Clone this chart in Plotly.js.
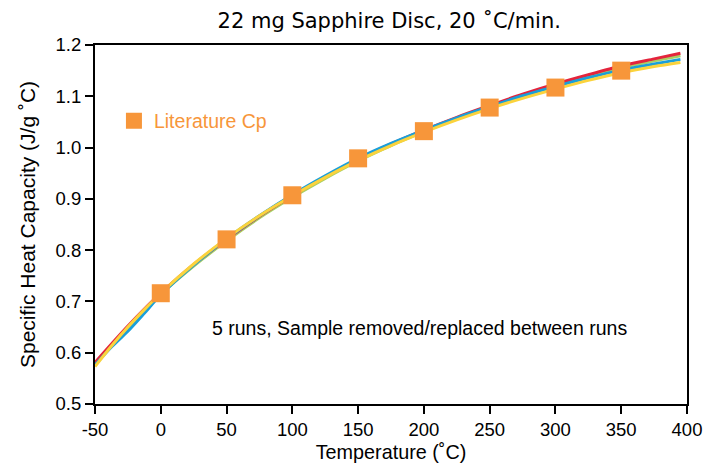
<!DOCTYPE html>
<html>
<head>
<meta charset="utf-8">
<script src="https://cdn.plot.ly/plotly-3.0.1.min.js"></script>
<style>
  html, body { margin: 0; padding: 0; background: #fff; }
  #chart { width: 709px; height: 466px; }
</style>
</head>
<body>
<div id="chart"></div>
<script>
// Temperature grid (°C) for the measured runs
const runTemps = [-50, -37.5, -25, -12.5, 0, 25, 50, 75, 100, 125, 150, 175, 200, 225, 250, 275, 300, 325, 350, 375, 395];

// Specific heat capacity (J/g °C) for each run
const runGreen  = [0.578, 0.613, 0.648, 0.681, 0.714, 0.769, 0.818, 0.863, 0.903, 0.940, 0.974, 1.004, 1.031, 1.056, 1.079, 1.100, 1.120, 1.139, 1.155, 1.169, 1.179];
const runRed    = [0.581, 0.617, 0.652, 0.685, 0.716, 0.772, 0.821, 0.866, 0.906, 0.943, 0.977, 1.007, 1.034, 1.059, 1.082, 1.104, 1.124, 1.142, 1.159, 1.173, 1.184];
const runBlue   = [0.576, 0.611, 0.642, 0.677, 0.713, 0.771, 0.822, 0.867, 0.908, 0.945, 0.979, 1.008, 1.034, 1.058, 1.080, 1.101, 1.119, 1.136, 1.151, 1.163, 1.172];
const runYellow = [0.573, 0.613, 0.650, 0.684, 0.716, 0.773, 0.823, 0.867, 0.906, 0.942, 0.975, 1.004, 1.030, 1.054, 1.076, 1.096, 1.114, 1.131, 1.146, 1.158, 1.166];

// Literature values for sapphire
const litTemps = [0, 50, 100, 150, 200, 250, 300, 350];
const litCp    = [0.716, 0.821, 0.907, 0.979, 1.032, 1.078, 1.117, 1.150];

const xTicks = [-50, 0, 50, 100, 150, 200, 250, 300, 350, 400];
const yTicks = [0.5, 0.6, 0.7, 0.8, 0.9, 1.0, 1.1, 1.2];
const yTickText = ['0.5', '0.6', '0.7', '0.8', '0.9', '1.0', '1.1', '1.2'];

const baseFont = 'Liberation Sans, Arial, sans-serif';

function runTrace(y, color) {
  return {
    x: runTemps, y: y, type: 'scatter', mode: 'lines',
    line: { color: color, width: 3, shape: 'spline', smoothing: 0.8 },
    showlegend: false, hoverinfo: 'skip'
  };
}

const traces = [
  runTrace(runGreen, '#a8d064'),
  runTrace(runRed, '#e4243c'),
  runTrace(runBlue, '#1a9fda'),
  runTrace(runYellow, '#fbd33c'),
  {
    x: litTemps, y: litCp, type: 'scatter', mode: 'markers',
    name: 'Literature Cp',
    marker: { symbol: 'square', size: 18, color: '#f7963a', line: { width: 0 } },
    showlegend: true
  }
];

const axisCommon = {
  showline: true, linecolor: '#000', linewidth: 2, mirror: true,
  ticks: 'outside', ticklen: 8, tickwidth: 2, tickcolor: '#000',
  showgrid: false, zeroline: false,
  tickfont: { family: baseFont, size: 18.5, color: '#000' }
};

const layout = {
  width: 709, height: 466,
  margin: { l: 95, r: 22, t: 45, b: 62 },
  paper_bgcolor: '#fff', plot_bgcolor: '#fff',
  title: {
    text: '22 mg Sapphire Disc, 20 ˚C/min.',
    font: { family: 'DejaVu Sans, sans-serif', size: 21, color: '#000' },
    x: 0.549, xanchor: 'center', y: 0.955, yanchor: 'middle'
  },
  xaxis: Object.assign({}, axisCommon, {
    range: [-50, 400], tickvals: xTicks, ticktext: xTicks.map(String),
    title: { text: 'Temperature (˚C)', standoff: 6, font: { family: baseFont, size: 19.8, color: '#000' } }
  }),
  yaxis: Object.assign({}, axisCommon, {
    range: [0.5, 1.2], tickvals: yTicks, ticktext: yTickText,
    title: { text: 'Specific Heat Capacity (J/g ˚C)', standoff: 14, font: { family: baseFont, size: 21, color: '#000' } }
  }),
  legend: {
    x: 0.032, xanchor: 'left', y: 0.788, yanchor: 'middle',
    bgcolor: 'rgba(0,0,0,0)', borderwidth: 0,
    font: { family: baseFont, size: 19.5, color: '#f7963a' },
    itemwidth: 30
  },
  annotations: [{
    x: 197, y: 0.648, xref: 'x', yref: 'y',
    text: '5 runs, Sample removed/replaced between runs',
    showarrow: false, xanchor: 'center', yanchor: 'middle',
    font: { family: baseFont, size: 19.5, color: '#000' }
  }]
};

Plotly.newPlot('chart', traces, layout, { displayModeBar: false, staticPlot: true });
</script>
</body>
</html>
